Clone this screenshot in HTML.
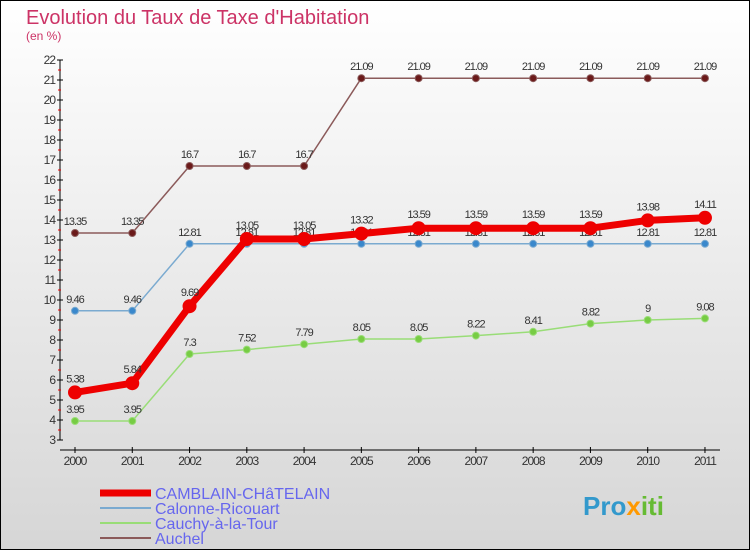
<!DOCTYPE html>
<html><head><meta charset="utf-8"><style>
body{margin:0}
svg{display:block}
text{font-family:"Liberation Sans",sans-serif}
</style></head><body>
<svg id="c" width="750" height="550" viewBox="0 0 750 550">
<defs><linearGradient id="bg" x1="0" y1="0" x2="0" y2="1"><stop offset="0" stop-color="#ffffff"/><stop offset="1" stop-color="#d6d6d6"/></linearGradient></defs>
<rect x="0.5" y="0.5" width="749" height="549" fill="url(#bg)" stroke="#000"/>
<text x="26" y="24" font-size="20" fill="#cc3366">Evolution du Taux de Taxe d'Habitation</text>
<text x="26" y="40" font-size="12" fill="#cc3366">(en %)</text>
<g id="axes"></g><g id="series"></g>
<g>
<line x1="100" y1="493" x2="151" y2="493" stroke="#ee0000" stroke-width="7"/>
<text x="155" y="499" font-size="16" fill="#6666ee">CAMBLAIN-CHâTELAIN</text>
<line x1="100" y1="508" x2="151" y2="508" stroke="#7aaad0" stroke-width="2"/>
<text x="155" y="514" font-size="16" fill="#6666ee">Calonne-Ricouart</text>
<line x1="100" y1="523" x2="151" y2="523" stroke="#99dd77" stroke-width="2"/>
<text x="155" y="529" font-size="16" fill="#6666ee">Cauchy-à-la-Tour</text>
<line x1="100" y1="538" x2="151" y2="538" stroke="#8b5a5a" stroke-width="2"/>
<text x="155" y="544" font-size="16" fill="#6666ee">Auchel</text>
</g>
<text x="583" y="515" font-size="26" font-weight="bold" fill="#3399cc">Pro<tspan fill="#ff9900">x</tspan><tspan fill="#66bb33">iti</tspan></text>
</svg>
<script>
const years=[2000,2001,2002,2003,2004,2005,2006,2007,2008,2009,2010,2011];
const yTicks=[3,4,5,6,7,8,9,10,11,12,13,14,15,16,17,18,19,20,21,22];
const auchel=[13.35,13.35,16.7,16.7,16.7,21.09,21.09,21.09,21.09,21.09,21.09,21.09];
const calonne=[9.46,9.46,12.81,12.81,12.81,12.81,12.81,12.81,12.81,12.81,12.81,12.81];
const cauchy=[3.95,3.95,7.3,7.52,7.79,8.05,8.05,8.22,8.41,8.82,9,9.08];
const camblain=[5.38,5.84,9.69,13.05,13.05,13.32,13.59,13.59,13.59,13.59,13.98,14.11];
const NS="http://www.w3.org/2000/svg";
const xS=i=>75+i*57.27;
const yS=v=>440-(v-3)*20;
function mk(p,t,a){const e=document.createElementNS(NS,t);for(const k in a)e.setAttribute(k,a[k]);p.appendChild(e);return e;}
const ax=document.getElementById('axes');
const yl=mk(ax,'line',{x1:60,y1:yS(22),x2:60,y2:440,stroke:'#000'});


const xl=mk(ax,'line',{x1:60,y1:450,x2:720,y2:450,stroke:'#000'});


yTicks.forEach(v=>{
 mk(ax,'line',{x1:57,y1:yS(v),x2:63,y2:yS(v),stroke:'#000'});
 if(v<22)mk(ax,'line',{x1:58,y1:yS(v+0.5),x2:61,y2:yS(v+0.5),stroke:'#e00'});
 const t=mk(ax,'text',{x:55,y:yS(v)+4,'font-size':12,fill:'#333','text-anchor':'end','letter-spacing':'-1'});
 t.textContent=v;
 
 
});
years.forEach((y,i)=>{
 mk(ax,'line',{x1:xS(i),y1:447,x2:xS(i),y2:453,stroke:'#000'});
 const t=mk(ax,'text',{x:xS(i),y:465,'font-size':12,fill:'#333','text-anchor':'middle','letter-spacing':'-1'});
 t.textContent=y;
 
 
});
const sg=document.getElementById('series');
function series(vals,name,color,dot,w,r,dy){
 const g=mk(sg,'g',{});
 
 
 const pl=mk(g,'polyline',{points:vals.map((v,i)=>xS(i)+','+yS(v)).join(' '),fill:'none',stroke:color,'stroke-width':w,'stroke-linejoin':'round'});
 
 
 vals.forEach((v,i)=>{
  const c=mk(g,'circle',{cx:xS(i),cy:yS(v),r:r,fill:dot,stroke:color,'stroke-width':1});
  
  
  const t=mk(g,'text',{x:xS(i),y:yS(v)-dy,'font-size':11,fill:'#333','text-anchor':'middle','letter-spacing':'-1'});
  t.textContent=v;
  
  
 });
}
series(auchel,'auchel','#8b5a5a','#6b1a1a',1.5,3.5,8);
series(calonne,'calonne','#7aaad0','#3a88cc',1.5,3.5,8);
series(cauchy,'cauchy','#99dd77','#77cc44',1.5,3.5,8);
series(camblain,'camblain','#ee0000','#ee0000',7,6.5,10);
</script>
</body></html>
